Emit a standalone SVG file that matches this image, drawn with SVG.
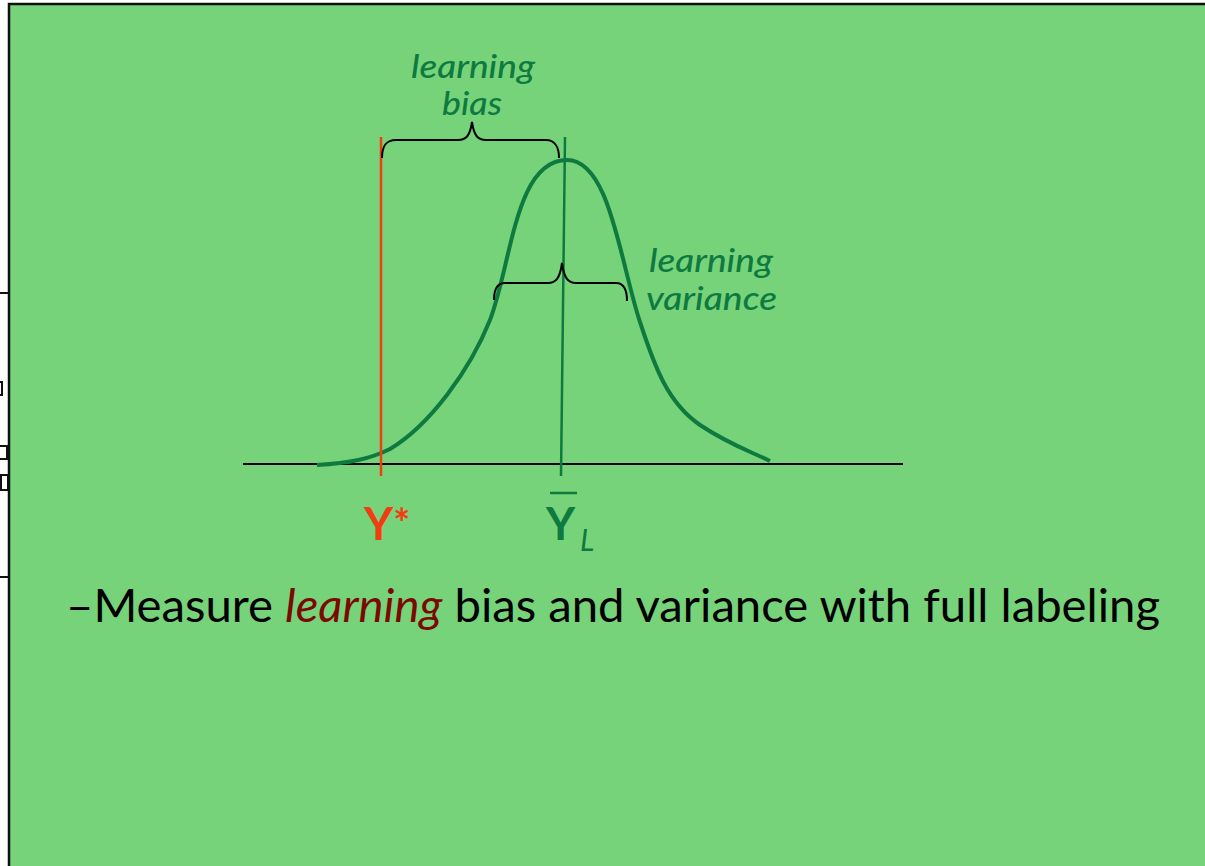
<svg xmlns="http://www.w3.org/2000/svg" width="1205" height="866" viewBox="0 0 1205 866">
<style>
.g{fill:#0f7a40;font-family:"Lato","Liberation Sans",sans-serif;font-style:italic;font-weight:500}
.k{fill:none;stroke:#000;stroke-width:2}
</style>
<rect x="0" y="0" width="1205" height="866" fill="#ffffff"/>
<g id="frame">
<rect x="9" y="4" width="1200" height="870" fill="#76d37a" stroke="#111" stroke-width="2.5"/>
<line x1="0" y1="293" x2="9" y2="293" stroke="#111" stroke-width="2"/>
<rect x="-5" y="382" width="7" height="13" fill="#fff" stroke="#111" stroke-width="2"/>
<rect x="-5" y="446" width="12" height="13" fill="#fff" stroke="#111" stroke-width="2"/>
<rect x="1" y="475" width="7" height="15" fill="#fff" stroke="#111" stroke-width="2"/>
<line x1="0" y1="577" x2="9" y2="577" stroke="#111" stroke-width="2"/>
</g>
<g id="connectors">
<line x1="243" y1="464" x2="903" y2="464" stroke="#000" stroke-width="2"/>
<path d="M317,465 C350,463 370,459 390,449 C430,425 470,370 490,320 C512,262 515,160 567,160 C610,160 620,262 640,322 C655,368 668,403 700,425 C730,445 752,452 770,461" fill="none" stroke="#0f7a40" stroke-width="4"/>
<line x1="381" y1="137" x2="381" y2="476" stroke="#f23c12" stroke-width="2.5"/>
<line x1="565" y1="137" x2="561" y2="476" stroke="#0f7a40" stroke-width="2.5"/>
<path class="k" d="M382,158 C382,146 386,140 396,140 L458,140 C466,140 470,136 472,122 C474,136 478,140 486,140 L546,140 C554,140 559,146 559,158"/>
<path class="k" d="M494,300 C494,289 497,283 505,283 L548,283 C556,283 560,278 562,263 C564,278 568,283 576,283 L616,283 C623,283 627,289 627,301"/>
</g>
<g id="bias-label">
<text class="g" x="473" y="78" font-size="33" text-anchor="middle" textLength="124" lengthAdjust="spacingAndGlyphs">learning</text>
<text class="g" x="472" y="115" font-size="33" text-anchor="middle" textLength="60" lengthAdjust="spacingAndGlyphs">bias</text>
</g>
<g id="variance-label">
<text class="g" x="649" y="272" font-size="33" textLength="124" lengthAdjust="spacingAndGlyphs">learning</text>
<text class="g" x="646" y="310" font-size="33" textLength="131" lengthAdjust="spacingAndGlyphs">variance</text>
</g>
<g id="ystar">
<text x="364" y="540" font-size="45" font-weight="bold" fill="#f23c12" font-family="Lato,'Liberation Sans',sans-serif">Y<tspan font-size="40" dy="-2">*</tspan></text>
</g>
<g id="ybar">
<line x1="550" y1="493" x2="577" y2="493" stroke="#0f7a40" stroke-width="2.5"/>
<text x="546" y="540" font-size="45" font-weight="bold" fill="#0f7a40" font-family="Lato,'Liberation Sans',sans-serif">Y</text>
<text x="580" y="551" font-size="30" fill="#0f7a40" font-style="italic" font-family="Lato,'Liberation Sans',sans-serif">L</text>
</g>
<g id="caption">
<text x="66" y="622" font-size="46" fill="#000" font-family="Lato,'Liberation Sans',sans-serif" textLength="1094" lengthAdjust="spacingAndGlyphs">–Measure <tspan fill="#7a0a00" font-style="italic">learning</tspan> bias and variance with full labeling</text>
</g>
</svg>
